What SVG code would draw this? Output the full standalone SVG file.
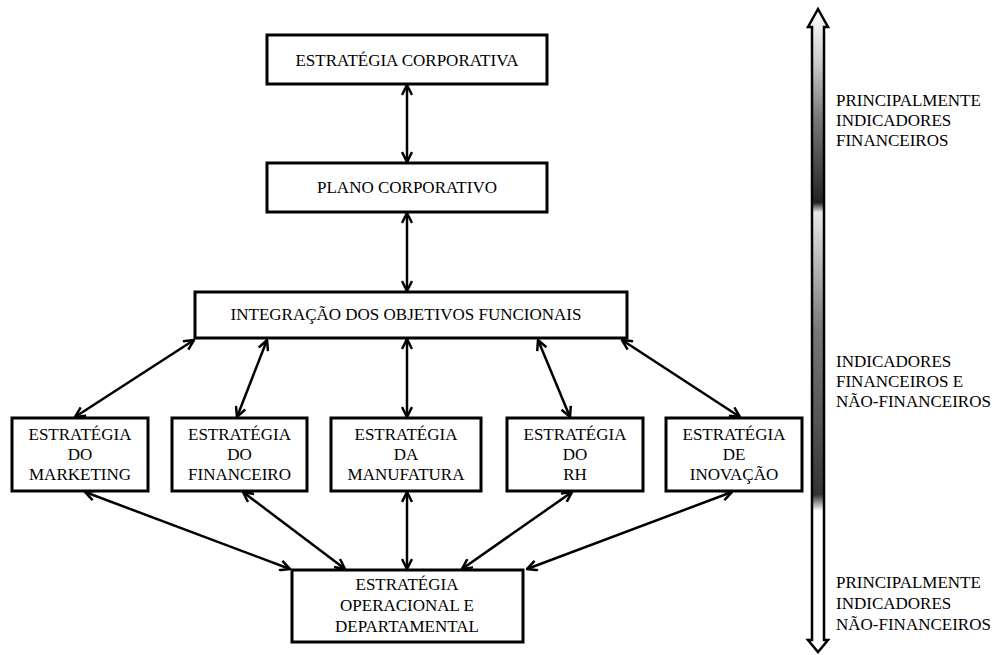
<svg xmlns="http://www.w3.org/2000/svg" width="995" height="655" viewBox="0 0 995 655">
<style>
.box{fill:#fff;stroke:#000;stroke-width:3}
.t{font-family:"Liberation Serif","Times New Roman",serif;font-size:17px;fill:#000;text-anchor:middle}
.r{font-family:"Liberation Serif","Times New Roman",serif;font-size:17px;fill:#000}
.c{stroke:#000;stroke-width:2.5;fill:none;marker-start:url(#ah);marker-end:url(#ah)}
</style>
<defs>
<marker id="ah" viewBox="0 0 12 12" refX="11" refY="6" markerWidth="12" markerHeight="12" markerUnits="userSpaceOnUse" orient="auto-start-reverse">
<path d="M1,1 L11,6 L1,11" fill="none" stroke="#000" stroke-width="2.5"/>
</marker>
<linearGradient id="g" gradientUnits="userSpaceOnUse" x1="0" y1="10" x2="0" y2="652">
<stop offset="0" stop-color="#fff"/>
<stop offset="0.08" stop-color="#ccc"/>
<stop offset="0.17" stop-color="#777"/>
<stop offset="0.3" stop-color="#222"/>
<stop offset="0.315" stop-color="#e8e8e8"/>
<stop offset="0.39" stop-color="#bbb"/>
<stop offset="0.5" stop-color="#777"/>
<stop offset="0.64" stop-color="#555"/>
<stop offset="0.755" stop-color="#333"/>
<stop offset="0.78" stop-color="#fff"/>
<stop offset="1" stop-color="#fff"/>
</linearGradient>
</defs>
<g id="connectors">
<line class="c" x1="407" y1="85" x2="407" y2="162"/>
<line class="c" x1="407" y1="213" x2="407" y2="291"/>
<line class="c" x1="194" y1="340" x2="75" y2="417"/>
<line class="c" x1="267" y1="340" x2="237" y2="417"/>
<line class="c" x1="407" y1="339" x2="407" y2="417"/>
<line class="c" x1="538" y1="340" x2="570" y2="417"/>
<line class="c" x1="622" y1="340" x2="740" y2="417"/>
<line class="c" x1="85" y1="492" x2="290" y2="569"/>
<line class="c" x1="243" y1="492" x2="345" y2="569"/>
<line class="c" x1="407" y1="492" x2="407" y2="569"/>
<line class="c" x1="572" y1="492" x2="462" y2="569"/>
<line class="c" x1="732" y1="492" x2="527" y2="569"/>
</g>
<g id="scale-arrow">
<path d="M818,9 L828,27 L824,27 L824,640 L828,640 L818,652 L808,640 L812,640 L812,27 L808,27 Z" fill="url(#g)" stroke="#000" stroke-width="2.5" stroke-linejoin="miter"/>
</g>
<g id="n-corp">
<rect class="box" x="267" y="35" width="280" height="49"/>
<text class="t" x="407" y="66">ESTRATÉGIA CORPORATIVA</text>
</g>
<g id="n-plano">
<rect class="box" x="267" y="163" width="280" height="49"/>
<text class="t" x="407" y="193">PLANO CORPORATIVO</text>
</g>
<g id="n-integ">
<rect class="box" x="195" y="292" width="432" height="46"/>
<text class="t" x="406" y="320">INTEGRAÇÃO DOS OBJETIVOS FUNCIONAIS</text>
</g>
<g id="n-mkt">
<rect class="box" x="12" y="418" width="136" height="73"/>
<text class="t" x="80" y="440">ESTRATÉGIA</text>
<text class="t" x="80" y="460">DO</text>
<text class="t" x="80" y="480">MARKETING</text>
</g>
<g id="n-fin">
<rect class="box" x="172" y="418" width="135" height="73"/>
<text class="t" x="239.5" y="440">ESTRATÉGIA</text>
<text class="t" x="239.5" y="460">DO</text>
<text class="t" x="239.5" y="480">FINANCEIRO</text>
</g>
<g id="n-man">
<rect class="box" x="331" y="418" width="150" height="73"/>
<text class="t" x="406" y="440">ESTRATÉGIA</text>
<text class="t" x="406" y="460">DA</text>
<text class="t" x="406" y="480">MANUFATURA</text>
</g>
<g id="n-rh">
<rect class="box" x="507" y="418" width="136" height="73"/>
<text class="t" x="575" y="440">ESTRATÉGIA</text>
<text class="t" x="575" y="460">DO</text>
<text class="t" x="575" y="480">RH</text>
</g>
<g id="n-inov">
<rect class="box" x="666" y="418" width="136" height="73"/>
<text class="t" x="734" y="440">ESTRATÉGIA</text>
<text class="t" x="734" y="460">DE</text>
<text class="t" x="734" y="480">INOVAÇÃO</text>
</g>
<g id="n-oper">
<rect class="box" x="292" y="570" width="231" height="72"/>
<text class="t" x="407" y="590">ESTRATÉGIA</text>
<text class="t" x="407" y="611">OPERACIONAL E</text>
<text class="t" x="407" y="632">DEPARTAMENTAL</text>
</g>
<g id="labels">
<text class="r" x="836" y="106">PRINCIPALMENTE</text>
<text class="r" x="836" y="126">INDICADORES</text>
<text class="r" x="836" y="146">FINANCEIROS</text>
<text class="r" x="836" y="367">INDICADORES</text>
<text class="r" x="836" y="387">FINANCEIROS E</text>
<text class="r" x="836" y="407">NÃO-FINANCEIROS</text>
<text class="r" x="836" y="588">PRINCIPALMENTE</text>
<text class="r" x="836" y="609">INDICADORES</text>
<text class="r" x="836" y="630">NÃO-FINANCEIROS</text>
</g>
</svg>
